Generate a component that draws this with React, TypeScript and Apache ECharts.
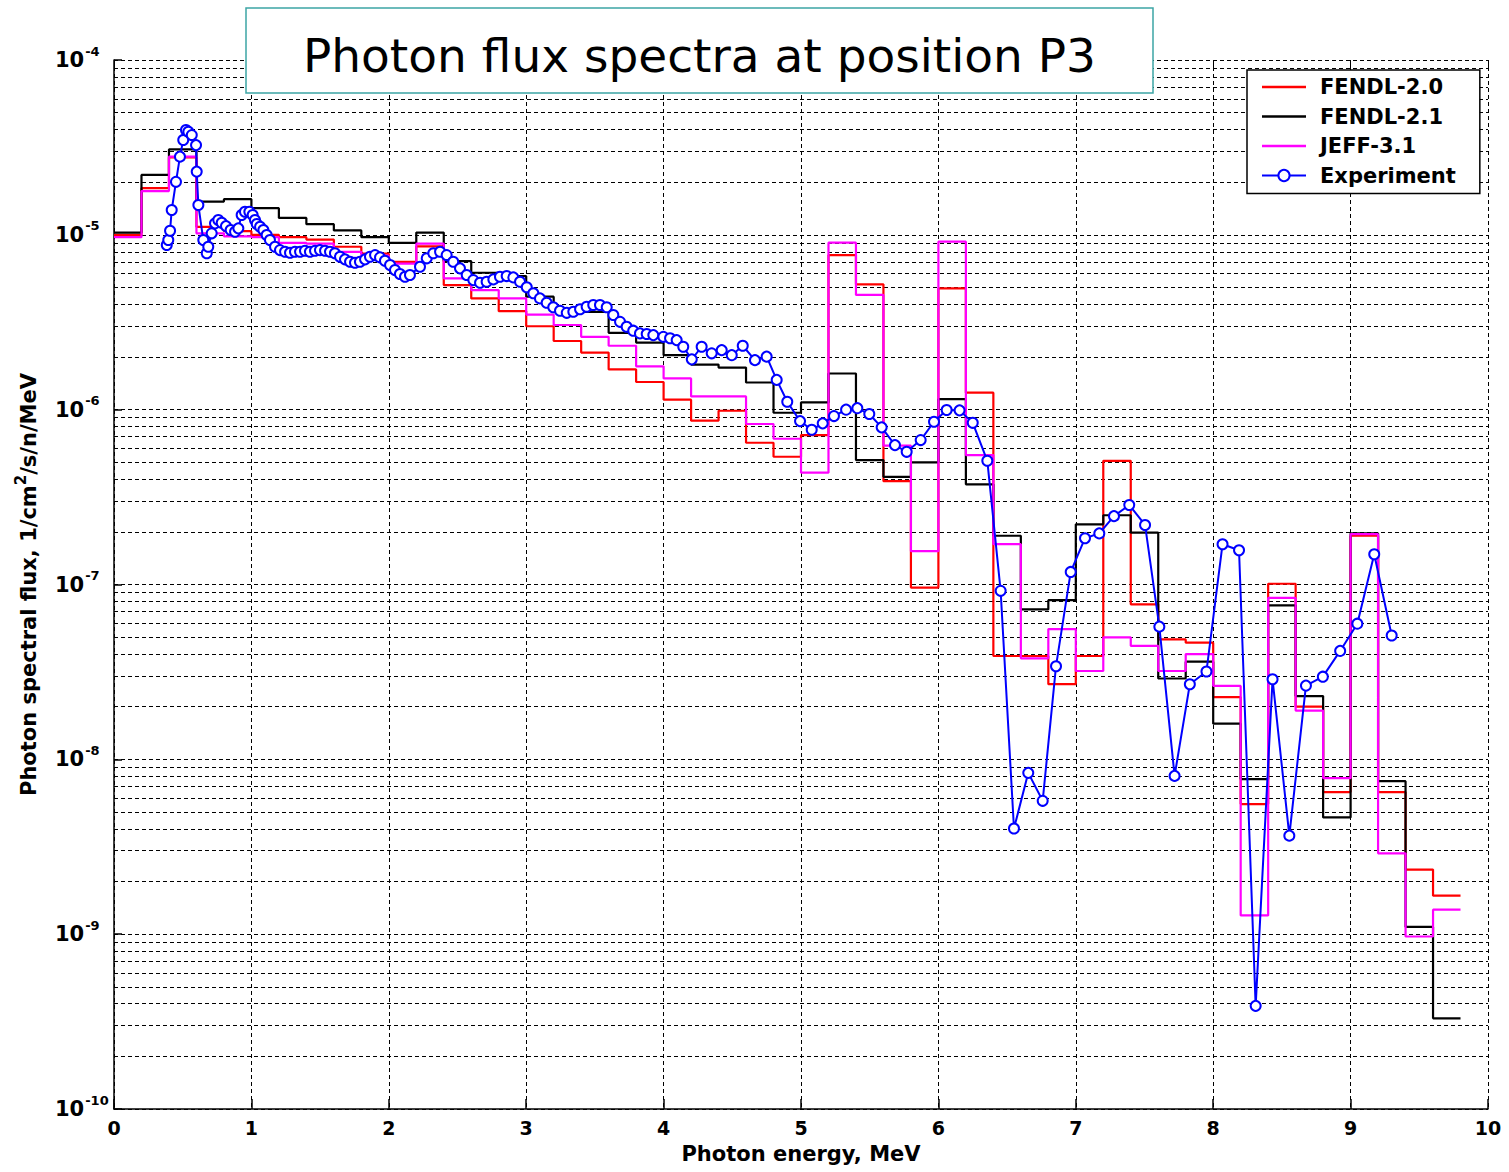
import React, { useEffect, useRef } from 'react';
import * as echarts from 'echarts';

// Group-wise spectra, 0.2 MeV bins starting at 0 MeV (1/cm2/s/n/MeV)
const binWidth = 0.2;

const fendl20 = [
  1.0e-5, 1.85e-5, 2.77e-5, 1.11e-5, 1.05e-5, 1.0e-5, 9.7e-6, 9.4e-6, 8.55e-6, 7.8e-6,
  7.0e-6, 8.6e-6, 5.16e-6, 4.33e-6, 3.66e-6, 3.0e-6, 2.47e-6, 2.12e-6, 1.7e-6, 1.44e-6,
  1.14e-6, 8.65e-7, 9.86e-7, 6.47e-7, 5.38e-7, 7.16e-7, 7.66e-6, 5.21e-6, 3.9e-7, 9.6e-8,
  4.94e-6, 1.25e-6, 3.9e-8, 3.9e-8, 2.69e-8, 3.9e-8, 5.1e-7, 7.7e-8, 4.85e-8, 4.65e-8,
  2.27e-8, 5.55e-9, 1.01e-7, 2.0e-8, 6.5e-9, 1.9e-7, 6.5e-9, 2.34e-9, 1.66e-9,
];

const fendl21 = [
  1.03e-5, 2.2e-5, 3.08e-5, 1.55e-5, 1.6e-5, 1.42e-5, 1.25e-5, 1.15e-5, 1.06e-5, 9.7e-6,
  9.0e-6, 1.03e-5, 7.07e-6, 6.07e-6, 5.8e-6, 4.43e-6, 3.7e-6, 3.63e-6, 2.75e-6, 2.42e-6,
  2.05e-6, 1.81e-6, 1.74e-6, 1.43e-6, 9.6e-7, 1.1e-6, 1.61e-6, 5.15e-7, 4.13e-7, 5.0e-7,
  1.15e-6, 3.74e-7, 1.9e-7, 7.2e-8, 8.14e-8, 2.21e-7, 2.49e-7, 1.98e-7, 2.9e-8, 3.62e-8,
  1.6e-8, 7.7e-9, 7.6e-8, 2.3e-8, 4.65e-9, 1.96e-7, 7.5e-9, 1.1e-9, 3.3e-10,
];

const jeff31 = [
  9.7e-6, 1.78e-5, 2.8e-5, 1.02e-5, 9.8e-6, 9.7e-6, 9.0e-6, 8.9e-6, 8.0e-6, 7.6e-6,
  6.85e-6, 8.9e-6, 5.64e-6, 4.83e-6, 4.33e-6, 3.5e-6, 3.05e-6, 2.61e-6, 2.32e-6, 1.77e-6,
  1.51e-6, 1.19e-6, 1.19e-6, 8.28e-7, 6.82e-7, 4.36e-7, 9.02e-6, 4.53e-6, 6.22e-7, 1.55e-7,
  9.14e-6, 5.5e-7, 1.7e-7, 3.78e-8, 5.56e-8, 3.2e-8, 4.98e-8, 4.46e-8, 3.2e-8, 4.0e-8,
  2.63e-8, 1.28e-9, 8.38e-8, 1.9e-8, 7.8e-9, 1.94e-7, 2.9e-9, 9.7e-10, 1.38e-9,
];

// Measured spectrum (MeV, 1/cm2/s/n/MeV)
const expEnergy = [
  0.384, 0.395, 0.408, 0.42, 0.451, 0.48, 0.504, 0.524, 0.541, 0.566,
  0.597, 0.602, 0.614, 0.65, 0.675, 0.686, 0.711, 0.735, 0.759, 0.784,
  0.815, 0.849, 0.881, 0.905, 0.929, 0.953, 0.985, 1.009, 1.026, 1.039,
  1.063, 1.087, 1.111, 1.135, 1.172, 1.208, 1.245, 1.281, 1.317, 1.354,
  1.39, 1.426, 1.463, 1.499, 1.536, 1.572, 1.608, 1.645, 1.681, 1.718,
  1.754, 1.79, 1.827, 1.863, 1.9, 1.936, 1.972, 2.009, 2.045, 2.081,
  2.118, 2.154, 2.227, 2.276, 2.324, 2.373, 2.421, 2.469, 2.518, 2.567,
  2.615, 2.664, 2.712, 2.761, 2.809, 2.858, 2.906, 2.955, 3.004, 3.052,
  3.1, 3.149, 3.197, 3.246, 3.295, 3.343, 3.392, 3.44, 3.488, 3.537,
  3.586, 3.634, 3.683, 3.731, 3.779, 3.828, 3.877, 3.925, 3.998, 4.047,
  4.095, 4.143, 4.205, 4.277, 4.35, 4.423, 4.496, 4.576, 4.665, 4.75,
  4.823, 4.9, 4.993, 5.078, 5.158, 5.24, 5.328, 5.41, 5.497, 5.587,
  5.684, 5.769, 5.871, 5.968, 6.06, 6.154, 6.25, 6.356, 6.453, 6.55,
  6.654, 6.759, 6.856, 6.963, 7.067, 7.171, 7.278, 7.389, 7.504, 7.608,
  7.719, 7.83, 7.951, 8.068, 8.188, 8.309, 8.432, 8.554, 8.675, 8.798,
  8.924, 9.049, 9.172, 9.299,
];

const expFlux = [
  8.74e-6, 9.34e-6, 1.056e-5, 1.387e-5, 2.01e-5, 2.8e-5, 3.49e-5, 3.98e-5, 3.89e-5, 3.72e-5,
  3.26e-5, 2.3e-5, 1.48e-5, 9.34e-6, 7.84e-6, 8.55e-6, 1.02e-5, 1.163e-5, 1.215e-5, 1.173e-5,
  1.122e-5, 1.065e-5, 1.041e-5, 1.089e-5, 1.298e-5, 1.356e-5, 1.356e-5, 1.298e-5, 1.215e-5, 1.153e-5,
  1.112e-5, 1.065e-5, 9.97e-6, 9.34e-6, 8.55e-6, 8.18e-6, 8.0e-6, 7.9e-6, 8.0e-6, 8.0e-6,
  8.11e-6, 8.0e-6, 8.11e-6, 8.18e-6, 8.11e-6, 8.0e-6, 7.84e-6, 7.49e-6, 7.24e-6, 7.02e-6,
  6.92e-6, 7.02e-6, 7.24e-6, 7.49e-6, 7.66e-6, 7.43e-6, 7.11e-6, 6.72e-6, 6.29e-6, 5.97e-6,
  5.76e-6, 5.89e-6, 6.57e-6, 7.34e-6, 7.84e-6, 8.0e-6, 7.66e-6, 7.02e-6, 6.43e-6, 5.89e-6,
  5.51e-6, 5.32e-6, 5.39e-6, 5.56e-6, 5.76e-6, 5.81e-6, 5.71e-6, 5.39e-6, 5.01e-6, 4.63e-6,
  4.33e-6, 4.09e-6, 3.85e-6, 3.68e-6, 3.58e-6, 3.63e-6, 3.75e-6, 3.88e-6, 3.97e-6, 3.97e-6,
  3.85e-6, 3.48e-6, 3.18e-6, 2.98e-6, 2.83e-6, 2.73e-6, 2.71e-6, 2.67e-6, 2.61e-6, 2.56e-6,
  2.5e-6, 2.29e-6, 1.94e-6, 2.29e-6, 2.1e-6, 2.19e-6, 2.05e-6, 2.32e-6, 1.92e-6, 2.01e-6,
  1.48e-6, 1.11e-6, 8.6e-7, 7.67e-7, 8.35e-7, 9.19e-7, 1.0e-6, 1.02e-6, 9.44e-7, 7.92e-7,
  6.27e-7, 5.74e-7, 6.7e-7, 8.53e-7, 9.95e-7, 9.91e-7, 8.41e-7, 5.1e-7, 9.2e-8, 4.02e-9,
  8.37e-9, 5.79e-9, 3.41e-8, 1.18e-7, 1.84e-7, 1.96e-7, 2.46e-7, 2.85e-7, 2.19e-7, 5.74e-8,
  8.04e-9, 2.69e-8, 3.18e-8, 1.7e-7, 1.57e-7, 3.89e-10, 2.87e-8, 3.66e-9, 2.64e-8, 2.97e-8,
  4.17e-8, 5.97e-8, 1.49e-7, 5.11e-8,
];

// Axis ranges and the 2..9 minor grid of the log axis
const energyMin = 0;
const energyMax = 10;
const fluxMin = 1e-10;
const fluxMax = 1e-4;
const decadeExponents = [-10, -9, -8, -7, -6, -5];
const minorMultipliers = [2, 3, 4, 5, 6, 7, 8, 9];

const titleText = 'Photon flux spectra at position P3';

const BOLD = 'DejaVu Sans';
// thin bar used as a plain line sample in the legend
const LINE_ICON = 'path://M0,0H100V6H0Z';

function toSteps(values: number[]): number[][] {
  const pts = values.map((v, i) => [+(i * binWidth).toFixed(2), v]);
  pts.push([+(values.length * binWidth).toFixed(2), values[values.length - 1]]);
  return pts;
}

export default function App() {
  const ref = useRef<HTMLDivElement>(null);

  useEffect(() => {
    if (!ref.current) return;
    const chart = echarts.init(ref.current, undefined, { renderer: 'svg' });

    const minorValues: number[] = [];
    decadeExponents.forEach((e) =>
      minorMultipliers.forEach((m) => minorValues.push(m * Math.pow(10, e)))
    );

    const gridDash = { color: '#000', width: 1, type: [4, 3] as number[] };

    const stepSeries = (name: string, values: number[], color: string, z: number) => ({
      name,
      type: 'line',
      step: 'end',
      data: toSteps(values),
      symbol: 'none',
      showSymbol: false,
      lineStyle: { color, width: 2.2 },
      itemStyle: { color },
      z,
    });

    chart.setOption({
      animation: false,
      backgroundColor: '#fff',
      grid: { left: 114, right: 21, top: 60, bottom: 63, containLabel: false },
      legend: {
        data: [
          { name: 'FENDL-2.0', icon: LINE_ICON },
          { name: 'FENDL-2.1', icon: LINE_ICON },
          { name: 'JEFF-3.1', icon: LINE_ICON },
          { name: 'Experiment' },
        ],
        orient: 'vertical',
        left: 1247,
        top: 70,
        backgroundColor: '#fff',
        borderColor: '#000',
        borderWidth: 1.5,
        borderRadius: 0,
        padding: [6, 24, 7, 14],
        itemWidth: 44,
        itemHeight: 14,
        itemGap: 7.5,
        symbolKeepAspect: true,
        textStyle: {
          fontFamily: BOLD,
          fontWeight: 'bold',
          fontSize: 21,
          lineHeight: 22,
          color: '#000',
          padding: [0, 0, 0, 9],
        },
        z: 10,
      },
      xAxis: [
        {
          type: 'value',
          min: energyMin,
          max: energyMax,
          interval: 1,
          axisLine: { show: true, onZero: false, lineStyle: { color: '#000', width: 1.5 } },
          axisTick: { show: true, inside: true, length: 10, lineStyle: { color: '#000', width: 1.5 } },
          axisLabel: {
            fontFamily: BOLD,
            fontWeight: 'bold',
            fontSize: 19,
            color: '#000',
            margin: 9,
          },
          splitLine: { show: true, lineStyle: gridDash },
          name: 'Photon energy, MeV',
          nameLocation: 'middle',
          nameGap: 34,
          nameTextStyle: { fontFamily: BOLD, fontWeight: 'bold', fontSize: 21, color: '#000' },
        },
        {
          type: 'value',
          position: 'top',
          min: energyMin,
          max: energyMax,
          interval: 1,
          axisLine: { show: false },
          axisTick: { show: true, inside: true, length: 7, lineStyle: { color: '#000', width: 1 } },
          axisLabel: { show: false },
          splitLine: { show: false },
        },
      ],
      yAxis: {
        type: 'log',
        logBase: 10,
        min: fluxMin,
        max: fluxMax,
        splitNumber: 6,
        axisLine: { show: true, onZero: false, lineStyle: { color: '#000', width: 1.5 } },
        axisTick: { show: true, inside: true, length: 8, lineStyle: { color: '#000', width: 1.5 } },
        axisLabel: {
          margin: 59,
          align: 'left',
          formatter: (v: number) => `{b|10}{s|${Math.round(Math.log10(v))}}`,
          rich: {
            b: { fontFamily: BOLD, fontWeight: 'bold', fontSize: 21, color: '#000' },
            s: {
              fontFamily: BOLD,
              fontWeight: 'bold',
              fontSize: 13,
              color: '#000',
              padding: [0, 0, 18, 1],
            },
          },
        },
        splitLine: { show: true, lineStyle: gridDash },
        name: 'Photon spectral flux, 1/cm{s|2}/s/n/MeV',
        nameLocation: 'middle',
        nameRotate: 90,
        nameGap: 70,
        nameTextStyle: {
          fontFamily: BOLD,
          fontWeight: 'bold',
          fontSize: 21,
          color: '#000',
          rich: {
            s: { fontFamily: BOLD, fontWeight: 'bold', fontSize: 15, color: '#000', padding: [0, 0, 16, 0] },
          },
        },
      },
      graphic: [
        {
          type: 'rect',
          z: 20,
          shape: { x: 246, y: 8, width: 907, height: 85 },
          style: { fill: '#fff', stroke: '#3da5a5', lineWidth: 1.5 },
        },
        {
          type: 'text',
          z: 21,
          x: 699.5,
          y: 55,
          style: {
            text: titleText,
            fontFamily: 'DejaVu Sans',
            fontSize: 47,
            fontWeight: 'normal',
            fill: '#000',
            align: 'center',
            verticalAlign: 'middle',
            textAlign: 'center',
            textVerticalAlign: 'middle',
          },
        },
      ],
      series: [
        {
          // dashed 2..9 grid lines of each decade
          type: 'lines',
          coordinateSystem: 'cartesian2d',
          silent: true,
          z: 1,
          polyline: false,
          lineStyle: { color: '#000', width: 1, type: [4, 3], opacity: 1 },
          data: minorValues.map((v) => ({ coords: [[energyMin, v], [energyMax, v]] })),
        },
        stepSeries('FENDL-2.0', fendl20, '#ff0000', 3),
        stepSeries('FENDL-2.1', fendl21, '#000000', 4),
        stepSeries('JEFF-3.1', jeff31, '#ff00ff', 5),
        {
          name: 'Experiment',
          type: 'line',
          data: expEnergy.map((e, i) => [e, expFlux[i]]),
          symbol: 'emptyCircle',
          symbolSize: 10,
          showSymbol: true,
          showAllSymbol: true,
          lineStyle: { color: '#0000ff', width: 2 },
          itemStyle: { color: '#0000ff', borderColor: '#0000ff', borderWidth: 1.8 },
          z: 6,
        },
      ],
    });

    return () => chart.dispose();
  }, []);

  return (
    <div
      ref={ref}
      style={{ position: 'fixed', left: 0, top: 0, width: 1509, height: 1172, background: '#fff' }}
    />
  );
}
